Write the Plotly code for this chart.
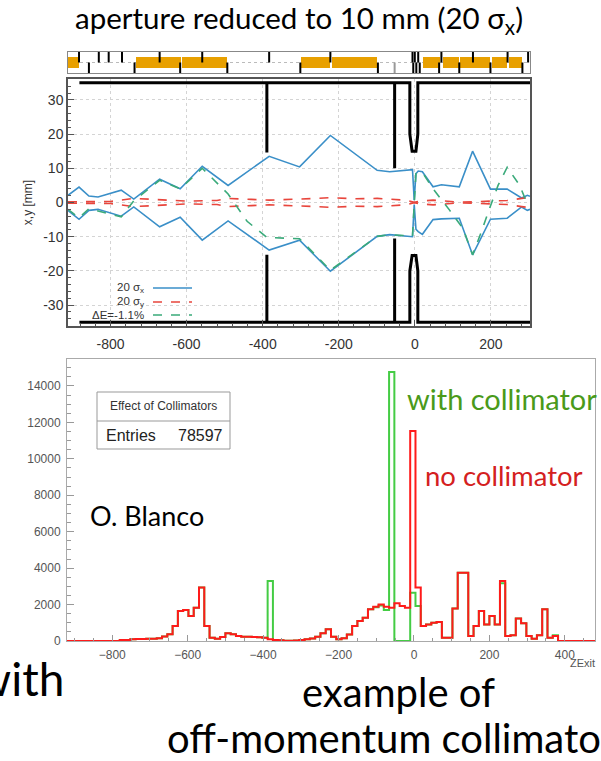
import plotly.graph_objects as go
import numpy as np

W, H = 601, 761
def fx(p): return p / W
def fy(p): return 1 - p / H

# ---------------- lattice strip ----------------
blk_start = [-912, -734, -671, -613, -558, -300, -218, 21, 74, 118, 153, 203, 247]
blk_end   = [-884, -671, -616, -558, -495, -224, -100, 66, 116, 153, 197, 242, 282]
tick_up = [-883, -831, -805, -770, -671, -559, -383, -222, -6, 0, 9, 70, 153, 244, 298]
tick_dn = [-857, -737, -617, -493, -301, -97, -4, 4, 13, 64, 117, 199, 283]
tick_dn_gray = [-53]

# ---------------- aperture ----------------
ap_x   = [-882, -389, -389, -389, -53, -53, -53, -13, -13, -7, 3, 8, 8, 303]
ap_top = [35, 35, 14.6, 35, 35, 10, 35, 35, 20, 15, 15, 20, 35, 35]
ap_bot = [-35, -35, -15.3, -35, -35, -10.5, -35, -35, -20, -15.5, -15.5, -20, -35, -35]

# ---------------- beam envelopes ----------------
sx_z = [-912, -883, -857, -833, -772, -739, -671, -617, -559, -491, -383, -303, -222,
        -99, -66, -11, -6, -1.5, 3, 9, 20, 48, 70, 117, 152, 199, 243, 281, 296, 303]
sx_up = [2.1, 4.5, 1.9, 1.6, 3.6, 1.0, 6.8, 4.0, 10.6, 5.0, 13.5, 10.4, 19.6,
         9.4, 9.0, 9.4, 9.6, 0.7, 8.4, 9.2, 9.0, 4.6, 5.2, 4.6, 15.0, 3.9, 3.9, 1.3, 2.1, 1.8]
sx_lo = [-2.3, -4.9, -2.3, -2.0, -4.0, -1.3, -7.1, -4.3, -11.0, -5.4, -13.9, -11.0, -20.1,
         -9.9, -9.4, -9.9, -10.0, -0.6, -7.8, -8.5, -9.3, -5.0, -4.8, -4.6, -15.3, -4.9, -4.6, -1.3, -2.3, -2.0]

sy_z = [-912, -800, -739, -671, -600, -520, -491, -430, -383, -303, -222, -160, -99, -66,
        -20, -1.5, 15, 48, 80, 117, 152, 199, 243, 281, 303]
sy_half = [0.2, 0.3, 1.2, 0.8, 0.4, 0.6, 1.2, 0.9, 0.7, 1.0, 1.4, 1.1, 1.2, 1.0,
           0.6, 0.05, 0.4, 0.7, 0.5, 0.1, 0.2, 0.3, 0.6, 1.2, 1.5]

de_z = [-912, -883, -857, -772, -739, -671, -617, -559, -491, -441, -389, -303, -222,
        -99, -66, -11, -6, -1.5, 3, 20, 48, 92, 127, 152, 175, 199, 219, 243, 276, 296, 303]
de_x = [-2.0, -4.5, -1.8, -4.2, 0.5, 6.5, 4.0, 10.0, 2.5, -5.5, -10.2, -10.6, -19.8,
        -9.9, -9.4, -9.9, -9.8, -0.6, 8.4, 8.8, 4.0, -2.3, -7.6, -15.3, -8.6, -1.0, 5.0, 10.3, 5.0, -0.5, -0.5]

top_xticks = [-800, -600, -400, -200, 0, 200]
top_xlabels = ["-800", "-600", "-400", "-200", "0", "200"]
top_yticks = [-30, -20, -10, 0, 10, 20, 30]
top_ylabels = ["-30", "-20", "-10", "0", "10", "20", "30"]

# ---------------- histogram ----------------
hist_lo, hist_hi, hist_bw = -920, 480, 14
red_counts = [0] * 10 + [
    60, 60, 90, 110, 110, 130, 130, 150, 250, 370,
    820, 1650, 1700, 1370, 1830, 2930, 820, 180, 130, 220,
    420, 370, 280, 240, 240, 220, 200, 180, 100, 50,
    40, 20, 20, 30, 50, 90, 140, 240, 420, 640,
    240, 90, 150, 350, 820, 1100, 1280, 1740, 1885, 2010,
    1885, 1830, 2070, 1920, 1830, 11530, 2930, 820, 910, 1000,
    1040, 180, 180, 1780, 3750, 3750, 270, 820, 1650, 910,
    1370, 910, 3290, 270, 310, 1230, 970, 270, 130, 310,
    1740, 180, 270, 0, 0, 0, 0, 0, 0, 0]
green_counts = list(red_counts)
green_changes = {38: 3290, 58: 1850, 59: 1950, 60: 1700, 61: 14770, 62: 0, 63: 0, 64: 0,
                 65: 2650, 66: 1920, 82: 3170, 92: 310}
for k, v in green_changes.items():
    green_counts[k] = v
hist_xticks = [-800, -600, -400, -200, 0, 200, 400]
hist_yticks = [0, 2000, 4000, 6000, 8000, 10000, 12000, 14000]
hist_ylabels = ["0", "2000", "4000", "6000", "8000", "10000", "12000", "14000"]
entries = 78597

edges = np.arange(hist_lo, hist_hi + 1, hist_bw)

fig = go.Figure()

# lattice blocks
bs = np.array(blk_start, float); be = np.array(blk_end, float)
fig.add_trace(go.Bar(x=(bs + be) / 2, width=be - bs, y=[1.14] * len(bs), base=-0.57,
                     marker=dict(color="#E8A000", line=dict(width=0)),
                     xaxis="x2", yaxis="y2", showlegend=False, hoverinfo="skip"))
def seg(xs, y0, y1):
    X, Y = [], []
    for v in xs:
        X += [v, v, None]; Y += [y0, y1, None]
    return X, Y
X, Y = seg(tick_up, 0, 1)
fig.add_trace(go.Scatter(x=X, y=Y, mode="lines", line=dict(color="black", width=2),
                         xaxis="x2", yaxis="y2", showlegend=False))
X, Y = seg(tick_dn, -1, 0)
fig.add_trace(go.Scatter(x=X, y=Y, mode="lines", line=dict(color="black", width=2),
                         xaxis="x2", yaxis="y2", showlegend=False))
X, Y = seg(tick_dn_gray, -1, 0)
fig.add_trace(go.Scatter(x=X, y=Y, mode="lines", line=dict(color="#999", width=2),
                         xaxis="x2", yaxis="y2", showlegend=False))

# envelopes
blue = "#3a8fc8"; redd = "#e8453c"; grn = "#3aaa7a"
fig.add_trace(go.Scatter(x=sx_z, y=sx_up, mode="lines", line=dict(color=blue, width=1.6), showlegend=False))
fig.add_trace(go.Scatter(x=sx_z, y=sx_lo, mode="lines", line=dict(color=blue, width=1.6), showlegend=False))
fig.add_trace(go.Scatter(x=sy_z, y=sy_half, mode="lines", line=dict(color=redd, width=1.6, dash="dash"), showlegend=False))
fig.add_trace(go.Scatter(x=sy_z, y=[-v for v in sy_half], mode="lines", line=dict(color=redd, width=1.6, dash="dash"), showlegend=False))
fig.add_trace(go.Scatter(x=de_z, y=de_x, mode="lines", line=dict(color=grn, width=1.6, dash="dash"), showlegend=False))
fig.add_trace(go.Scatter(x=ap_x, y=ap_top, mode="lines", line=dict(color="black", width=3), showlegend=False))
fig.add_trace(go.Scatter(x=ap_x, y=ap_bot, mode="lines", line=dict(color="black", width=3), showlegend=False))

# histogram
fig.add_trace(go.Scatter(x=edges, y=green_counts + [green_counts[-1]], mode="lines", line_shape="hv",
                         line=dict(color="#44cc44", width=2), xaxis="x3", yaxis="y3", showlegend=False))
fig.add_trace(go.Scatter(x=edges, y=red_counts + [red_counts[-1]], mode="lines", line_shape="hv",
                         line=dict(color="#ff1a1a", width=2), xaxis="x3", yaxis="y3", showlegend=False))

axfont = dict(family="Liberation Sans", size=14, color="#333")
hfont = dict(family="Liberation Sans", size=12, color="#555")

fig.update_layout(
    width=W, height=H, margin=dict(l=0, r=0, t=0, b=0, pad=0, autoexpand=False),
    paper_bgcolor="white", plot_bgcolor="white", showlegend=False, bargap=0,
    xaxis=dict(domain=[fx(68), fx(530)], range=[-912, 303], anchor="y", automargin=False,
               tickvals=top_xticks, ticktext=top_xlabels, ticks="inside", ticklen=6,
               tickcolor="#555", tickfont=axfont, ticklabelstandoff=4,
               showline=True, mirror=True, linecolor="#555", linewidth=1.5,
               showgrid=True, gridcolor="#d4d4d4", griddash="dot", zeroline=False,
               minor=dict(dtick=40, ticks="inside", ticklen=3, tickcolor="#555", showgrid=False)),
    yaxis=dict(domain=[fy(326), fy(79)], range=[-36.1, 36.1], anchor="x", automargin=False,
               tickvals=top_yticks, ticktext=top_ylabels, ticks="inside", ticklen=6,
               tickcolor="#555", tickfont=axfont,
               showline=True, mirror=True, linecolor="#555", linewidth=1.5,
               showgrid=True, gridcolor="#d4d4d4", griddash="dot", zeroline=False,
               title=dict(text="x,y [mm]", font=dict(family="Liberation Sans", size=12, color="#333"), standoff=8),
               minor=dict(dtick=2, ticks="inside", ticklen=3, tickcolor="#555", showgrid=False)),
    xaxis2=dict(domain=[fx(68), fx(530)], range=[-912, 303], anchor="y2", automargin=False,
                showticklabels=False, ticks="", showgrid=False, zeroline=False,
                showline=True, mirror=True, linecolor="#888", linewidth=1),
    yaxis2=dict(domain=[fy(73), fy(52)], range=[-1, 1], anchor="x2", automargin=False,
                tickvals=[0], showticklabels=False, ticks="", showgrid=True,
                gridcolor="#bbb", griddash="dot", zeroline=False,
                showline=True, mirror=True, linecolor="#888", linewidth=1),
    xaxis3=dict(domain=[fx(67), fx(595)], range=[hist_lo, hist_hi], anchor="y3", automargin=False,
                tickvals=hist_xticks, ticks="inside", ticklen=6, tickcolor="#999",
                tickfont=hfont, ticklabelstandoff=3,
                showline=True, mirror=True, linecolor="#aaa", linewidth=1,
                showgrid=False, zeroline=False,
                minor=dict(dtick=50, ticks="inside", ticklen=3, tickcolor="#999")),
    yaxis3=dict(domain=[fy(641), fy(359)], range=[0, 15480], anchor="x3", automargin=False,
                tickvals=hist_yticks, ticktext=hist_ylabels, ticks="inside", ticklen=7, tickcolor="#999",
                tickfont=hfont, ticklabelstandoff=3,
                showline=True, mirror=True, linecolor="#aaa", linewidth=1,
                showgrid=False, zeroline=False,
                minor=dict(dtick=500, ticks="inside", ticklen=4, tickcolor="#999")),
)

shapes = []
leg_rows = [288, 302, 315]
leg_styles = [(blue, "solid"), (redd, "dash"), (grn, "dash")]
for r, (c, d) in zip(leg_rows, leg_styles):
    shapes.append(dict(type="line", xref="paper", yref="paper", x0=fx(153), x1=fx(192),
                       y0=fy(r), y1=fy(r), line=dict(color=c, width=1.6, dash=d)))
shapes.append(dict(type="rect", xref="paper", yref="paper", x0=fx(97), x1=fx(230),
                   y0=fy(449), y1=fy(392), line=dict(color="#999", width=1), fillcolor="white"))
shapes.append(dict(type="line", xref="paper", yref="paper", x0=fx(97), x1=fx(230),
                   y0=fy(421), y1=fy(421), line=dict(color="#999", width=1)))
fig.update_layout(shapes=shapes)

ann = []
def A(text, x, y, size, color="black", family="Lato", xanchor="center", yanchor="middle"):
    ann.append(dict(text=text, x=fx(x), y=fy(y), xref="paper", yref="paper", showarrow=False,
                    xanchor=xanchor, yanchor=yanchor, font=dict(family=family, size=size, color=color)))

A("aperture reduced to 10 mm (20 σ<sub>x</sub>)", 299, 20, 29.5)
leg_texts = ["20 σ<sub>x</sub>", "20 σ<sub>y</sub>", "ΔE=-1.1%"]
for r, t in zip(leg_rows, leg_texts):
    A(t, 146, r, 11.5, color="#333", family="Liberation Sans", xanchor="right")
A("Effect of Collimators", 163.5, 406, 12, color="#333", family="Liberation Sans")
A("Entries", 104, 435, 16, color="#222", family="Liberation Sans", xanchor="left")
A(f"{entries}", 225, 435, 16, color="#222", family="Liberation Sans", xanchor="right")
A("ZExit", 597, 663, 11, color="#555", family="Liberation Sans", xanchor="right")
A("O. Blanco", 88, 515, 27, xanchor="left")
A("with collimator", 405, 398, 29, color="#4a9a1a", xanchor="left")
A("no collimator", 423, 475, 27.5, color="#d42020", xanchor="left")
A("with", 66, 678, 46, xanchor="right")
A("example of", 398, 692, 40)
A("off-momentum collimator", 165, 738, 40, xanchor="left")
fig.update_layout(annotations=ann)

fig.write_html("out.html")
